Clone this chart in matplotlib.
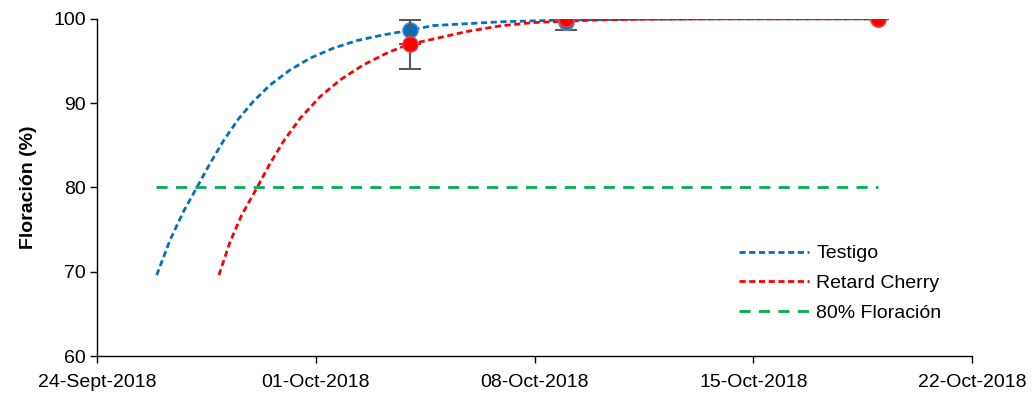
import matplotlib.pyplot as plt
import pandas as pd

plt.rcParams['font.family'] = ['Liberation Sans', 'DejaVu Sans']

# fechas de muestreo y medias
fechas = pd.to_datetime(['2018-10-04', '2018-10-09', '2018-10-19'])
testigo = [98.7, 99.6, 100.0]
testigo_err = [1.7, 0.9, 0.0]
retard = [97.0, 100.0, 100.0]
retard_err = [2.9, 0.0, 0.0]

# lineas de tendencia (dias desde 24-Sept-2018)
dias_testigo = [1.91, 2.34, 2.76, 3.19, 3.62, 4.04, 4.52, 5.00, 5.54, 6.18, 6.82, 7.56, 8.31,
                9.16, 9.91, 10.75, 12.9, 14.8, 17.0, 20.0, 25.0]
tend_testigo = [69.6, 73.8, 77.1, 79.98, 82.87, 85.5, 88.1, 90.2, 92.17, 93.95, 95.34, 96.52,
                97.42, 98.1, 98.58, 99.2, 99.65, 99.85, 99.95, 100.0, 100.0]
dias_retard = [3.90, 4.26, 4.63, 5.11, 5.54, 5.96, 6.50, 7.14, 7.78, 8.52, 9.27, 9.91, 10.76,
               11.83, 12.9, 13.95, 16.1, 17.6, 20.0, 25.0]
tend_retard = [69.6, 73.57, 76.74, 79.9, 82.87, 85.44, 88.21, 90.78, 92.76, 94.54, 95.93, 96.91,
               97.6, 98.5, 99.17, 99.56, 99.88, 99.96, 100.0, 100.0]
dias_80 = [1.88, 25.0]
linea_80 = [80, 80]

inicio = pd.Timestamp('2018-09-24')
ticks = pd.date_range('2018-09-24', '2018-10-22', freq='7D')
tick_labels = ['24-Sept-2018', '01-Oct-2018', '08-Oct-2018', '15-Oct-2018', '22-Oct-2018']

azul = '#0070C0'
rojo = '#FF0000'
verde = '#00B050'


def a_fecha(d):
    return [inicio + pd.Timedelta(days=x) for x in d]


fig = plt.figure(figsize=(10.32, 3.93), dpi=100)
ax = fig.add_axes([0.094, 0.094, 0.848, 0.858])

ax.plot(a_fecha(dias_testigo), tend_testigo, color=azul, lw=2, ls=(0, (2.2, 1.3)),
        label='Testigo', zorder=2)
ax.plot(a_fecha(dias_retard), tend_retard, color=rojo, lw=2, ls=(0, (2.2, 1.3)),
        label='Retard Cherry', zorder=2)
ax.plot(a_fecha(dias_80), linea_80, color=verde, lw=2, ls=(0, (4, 3)), label='80% Floración', zorder=2)

ax.errorbar(fechas, testigo, yerr=testigo_err, fmt='o', color=azul, ms=11, mec='#5a8fc8',
            ecolor='#595959', elinewidth=1.5, capsize=8, capthick=1.5, zorder=4)
ax.errorbar(fechas, retard, yerr=retard_err, fmt='o', color=rojo, ms=11, mec='#d85050',
            ecolor='#595959', elinewidth=1.5, capsize=8, capthick=1.5, zorder=5)

ax.set_xlim(ticks[0], ticks[-1])
ax.set_ylim(60, 100)
ax.set_xticks(ticks)
ax.set_xticklabels(tick_labels)
ax.set_yticks([60, 70, 80, 90, 100])
ax.tick_params(labelsize=14, direction='out', length=5, width=1, color='black', pad=3)
ax.tick_params(axis='x', pad=8)
ax.set_ylabel('Floración (%)', fontsize=14, fontweight='bold', labelpad=12)

for s in ['top', 'right']:
    ax.spines[s].set_visible(False)
for s in ['left', 'bottom']:
    ax.spines[s].set_linewidth(1)

ax.legend(loc='lower right', bbox_to_anchor=(0.985, 0.05), frameon=False, fontsize=14,
          handlelength=3.6, handletextpad=0.4, labelspacing=0.62)

fig.savefig('out.png', dpi=100)
